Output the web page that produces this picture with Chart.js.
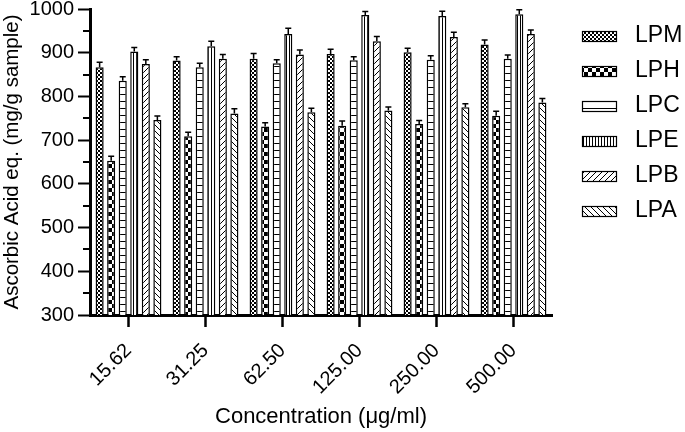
<!DOCTYPE html>
<html>
<head>
<meta charset="utf-8">
<script src="https://cdn.jsdelivr.net/npm/chart.js@4.4.1/dist/chart.umd.min.js"></script>
<style>
  html, body { margin: 0; padding: 0; background: #fff; }
  #wrap { width: 685px; height: 432px; }
</style>
</head>
<body>
<div id="wrap"><canvas id="chart" width="685" height="432"></canvas></div>
<script>
// concentrations (x categories)
const categories = ["15.62", "31.25", "62.50", "125.00", "250.00", "500.00"];
const seriesNames = ["LPM", "LPH", "LPC", "LPE", "LPB", "LPA"];

// mean values, mg AAE / g sample
const lpm = [867, 882, 886, 897, 901, 919];
const lph = [653, 709, 731, 733, 737, 756];
const lpc = [836, 867, 876, 883, 884, 886];
const lpe = [903, 915, 943, 986, 984, 988];
const lpb = [874, 886, 896, 926, 936, 943];
const lpa = [746, 761, 764, 768, 775, 786];

// upper error (SD)
const lpmErr = [11, 9, 12, 11, 9, 10];
const lphErr = [10, 9, 9, 11, 8, 10];
const lpcErr = [9, 9, 8, 8, 9, 9];
const lpeErr = [9, 11, 13, 8, 11, 10];
const lpbErr = [10, 10, 10, 11, 11, 9];
const lpaErr = [9, 11, 9, 8, 8, 9];

const yTicks = { min: 300, max: 1000, step: 100, minorStep: 50 };

const FONT = "'Liberation Sans', Arial, Helvetica, sans-serif";
Chart.defaults.font.family = FONT;
Chart.defaults.color = "#000";

// black & white fill patterns, one per extract
function makePattern(kind) {
  const c = document.createElement("canvas");
  const g = c.getContext("2d");
  const s = { fine: 4, check: 8, hlines: 7, vlines: 3, fwd: 6, back: 6 }[kind];
  c.width = s; c.height = s;
  g.fillStyle = "#fff"; g.fillRect(0, 0, s, s);
  g.fillStyle = "#000"; g.strokeStyle = "#000"; g.lineWidth = 1;
  if (kind === "fine") { g.fillRect(0, 0, 2, 2); g.fillRect(2, 2, 2, 2); }
  if (kind === "check") { g.fillRect(0, 0, 4, 4); g.fillRect(4, 4, 4, 4); }
  if (kind === "hlines") { g.fillRect(0, 3, s, 1); }
  if (kind === "vlines") { g.fillRect(1, 0, 1, s); }
  if (kind === "fwd") {
    g.beginPath();
    g.moveTo(-1, s + 1); g.lineTo(s + 1, -1);
    g.moveTo(-1, 1); g.lineTo(1, -1);
    g.moveTo(s - 1, s + 1); g.lineTo(s + 1, s - 1);
    g.stroke();
  }
  if (kind === "back") {
    g.beginPath();
    g.moveTo(-1, -1); g.lineTo(s + 1, s + 1);
    g.moveTo(-1, s - 1); g.lineTo(1, s + 1);
    g.moveTo(s - 1, -1); g.lineTo(s + 1, 1);
    g.stroke();
  }
  return g.createPattern(c, "repeat");
}

const series = [
  { label: seriesNames[0], data: lpm, err: lpmErr, fill: makePattern("fine") },
  { label: seriesNames[1], data: lph, err: lphErr, fill: makePattern("check") },
  { label: seriesNames[2], data: lpc, err: lpcErr, fill: makePattern("hlines") },
  { label: seriesNames[3], data: lpe, err: lpeErr, fill: makePattern("vlines") },
  { label: seriesNames[4], data: lpb, err: lpbErr, fill: makePattern("fwd") },
  { label: seriesNames[5], data: lpa, err: lpaErr, fill: makePattern("back") }
];

// upper error bars with caps
const errorBars = {
  id: "errorBars",
  afterDatasetsDraw(chart) {
    const ctx = chart.ctx, y = chart.scales.y;
    ctx.save();
    ctx.strokeStyle = "#000"; ctx.lineWidth = 1.5;
    chart.data.datasets.forEach((ds, i) => {
      chart.getDatasetMeta(i).data.forEach((bar, j) => {
        const top = y.getPixelForValue(ds.data[j] + ds.err[j]);
        ctx.beginPath();
        ctx.moveTo(bar.x, bar.y); ctx.lineTo(bar.x, top);
        ctx.moveTo(bar.x - 3, top); ctx.lineTo(bar.x + 3, top);
        ctx.stroke();
      });
    });
    ctx.restore();
  }
};

// minor ticks on the y axis
const minorTicks = {
  id: "minorTicks",
  afterDraw(chart) {
    const ctx = chart.ctx, y = chart.scales.y, x0 = chart.chartArea.left;
    ctx.save();
    ctx.strokeStyle = "#000"; ctx.lineWidth = 2;
    for (let v = yTicks.min + yTicks.minorStep; v < yTicks.max; v += yTicks.step) {
      const py = Math.round(y.getPixelForValue(v));
      ctx.beginPath(); ctx.moveTo(x0 - 7, py); ctx.lineTo(x0, py); ctx.stroke();
    }
    ctx.restore();
  }
};

// legend at the right, Prism style
const sideLegend = {
  id: "sideLegend",
  afterDraw(chart) {
    const ctx = chart.ctx;
    const bx = chart.chartArea.right + 30, tx = bx + 53;
    ctx.save();
    ctx.font = "23px " + FONT;
    ctx.textBaseline = "alphabetic";
    chart.data.datasets.forEach((ds, i) => {
      const base = 42 + i * 35;
      ctx.fillStyle = ds.backgroundColor;
      ctx.fillRect(bx, base - 10, 35, 10);
      ctx.strokeStyle = "#000"; ctx.lineWidth = 1.2;
      ctx.strokeRect(bx + 0.5, base - 10.5, 34, 10);
      ctx.fillStyle = "#000";
      ctx.fillText(ds.label, tx, base);
    });
    ctx.restore();
  }
};

new Chart(document.getElementById("chart"), {
  type: "bar",
  data: {
    labels: categories,
    datasets: series.map(s => ({
      label: s.label, data: s.data, err: s.err,
      backgroundColor: s.fill, borderColor: "#000", borderWidth: 1.5,
      categoryPercentage: 0.9, barPercentage: 0.7
    }))
  },
  options: {
    responsive: false, animation: false,
    layout: { padding: { left: 0, right: 133, top: 9, bottom: 0 } },
    plugins: { legend: { display: false }, tooltip: { enabled: false } },
    scales: {
      x: {
        offset: true,
        grid: { offset: false, drawOnChartArea: false, drawTicks: true, tickLength: 12, tickWidth: 2.5, tickColor: "#000" },
        border: { display: true, width: 3, color: "#000" },
        ticks: { color: "#000", font: { size: 20 }, minRotation: 45, maxRotation: 45, padding: 12 },
        title: { display: true, text: "Concentration (\u03bcg/ml)", color: "#000", font: { size: 22 }, padding: { top: 0, bottom: 2 } },
        afterFit: (s) => { s.height = 117; }
      },
      y: {
        min: yTicks.min, max: yTicks.max,
        grid: { drawOnChartArea: false, drawTicks: true, tickLength: 12, tickWidth: 2, tickColor: "#000" },
        border: { display: true, width: 3, color: "#000" },
        ticks: { stepSize: yTicks.step, color: "#000", font: { size: 20, lineHeight: 1 }, padding: 4, callback: (v) => String(v) },
        title: { display: true, text: "Ascorbic Acid eq. (mg/g sample)", color: "#000", font: { size: 20.5 }, padding: { top: 0, bottom: 0 } },
        afterFit: (s) => { s.width = 90; s.paddingTop = 0; s.paddingBottom = 0; }
      }
    }
  },
  plugins: [errorBars, minorTicks, sideLegend]
});
</script>
</body>
</html>
